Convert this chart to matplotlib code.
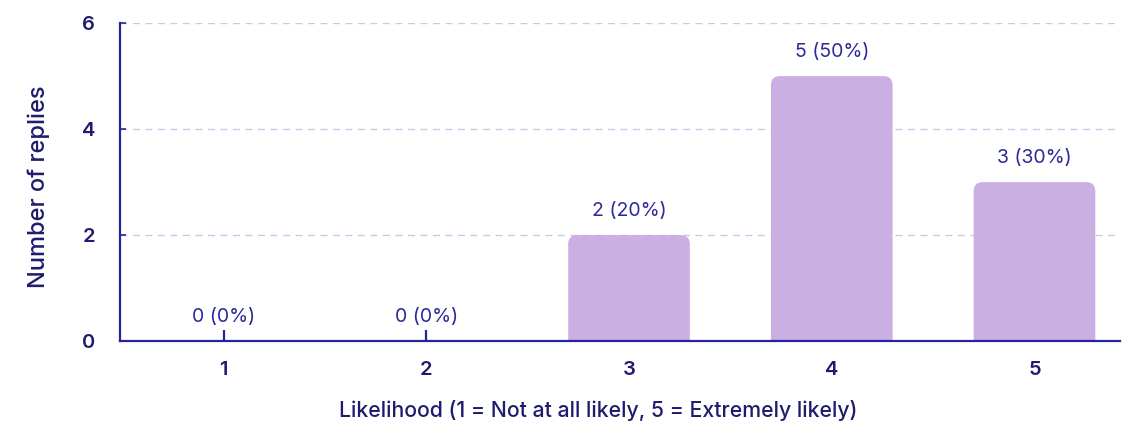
import matplotlib.pyplot as plt
from matplotlib.patches import FancyBboxPatch

plt.rcParams['font.family'] = ['Inter', 'DejaVu Sans']

# Survey results
puntajes = [1, 2, 3, 4, 5]
respuestas = [0, 0, 2, 5, 3]
porcentajes = [0, 0, 20, 50, 30]

navy = '#1f1b6e'
eje = '#27239a'
lila = '#cbaee2'

fig = plt.figure(figsize=(11.23, 4.28), dpi=100)
ax = fig.add_axes([0.107, 0.203, 0.890, 0.743])

ax.set_xlim(0.49, 5.42)
ax.set_ylim(0, 6)
fig.canvas.draw()

# rounded top corners: convert a pixel radius to data units on each axis
px_x = (ax.get_xlim()[1] - ax.get_xlim()[0]) / ax.bbox.width
px_y = (ax.get_ylim()[1] - ax.get_ylim()[0]) / ax.bbox.height
r = 9 * px_x
ancho = 0.6

for x, v, p in zip(puntajes, respuestas, porcentajes):
    if v > 0:
        caja = FancyBboxPatch((x - ancho / 2, -1), ancho, v + 1,
                              boxstyle=f'round,pad=0,rounding_size={r}',
                              mutation_aspect=px_y / px_x,
                              facecolor=lila, edgecolor='none', zorder=2,
                              clip_on=True)
        ax.add_patch(caja)
    ax.annotate(f'{v} ({p}%)', (x, v), xytext=(0, 11), textcoords='offset points',
                ha='center', va='bottom', fontsize=14, color='#2e2a9c')

ax.set_xticks(puntajes)
ax.set_yticks([0, 2, 4, 6])
ax.yaxis.grid(True, linestyle=(0, (5, 4)), color='#c9c8ea', linewidth=1)
ax.set_axisbelow(True)

for lado in ['top', 'right']:
    ax.spines[lado].set_visible(False)
for lado in ['left', 'bottom']:
    ax.spines[lado].set_color(eje)
    ax.spines[lado].set_linewidth(1.6)
    ax.spines[lado].set_zorder(3)

ax.tick_params(axis='x', direction='in', length=8, width=1.6, color=eje,
               pad=14, labelsize=14.5, labelcolor=navy)
ax.tick_params(axis='y', direction='in', length=4, width=1.2, color=eje,
               pad=18, labelsize=14.5, labelcolor=navy)
for t in ax.get_xticklabels() + ax.get_yticklabels():
    t.set_fontweight('semibold')

ax.set_ylabel('Number of replies', fontsize=17, color=navy, fontweight='medium')
ax.set_xlabel('Likelihood (1 = Not at all likely, 5 = Extremely likely)', fontsize=15.3,
              color=navy, fontweight='medium')
ax.yaxis.set_label_coords(-0.070, 0.487)
ax.xaxis.set_label_coords(0.478, -0.185)

fig.savefig('out.png', dpi=100)
